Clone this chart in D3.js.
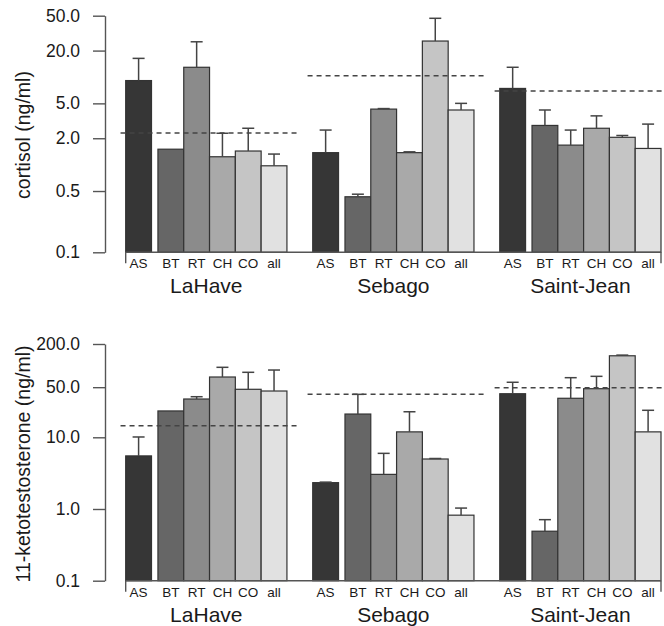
<!DOCTYPE html>
<html>
<head>
<meta charset="utf-8">
<script src="https://cdn.jsdelivr.net/npm/d3@7"></script>
<style>
  body { margin: 0; background: #fff; }
  text { font-family: "Liberation Sans", Arial, Helvetica, sans-serif; fill: #1a1a1a; }
</style>
</head>
<body>
<svg id="chart" width="664" height="626"></svg>
<script>
// sites and species (bar names)
const sites = ["LaHave", "Sebago", "Saint-Jean"];
const species = ["AS", "BT", "RT", "CH", "CO", "all"];
const barColors = ["#363636", "#666666", "#8b8b8b", "#a9a9a9", "#c5c5c5", "#e1e1e1"];

// cortisol (ng/ml): means and upper error, one row per site
const cortisolMean  = [[9.1, 1.5, 12.9, 1.23, 1.43, 0.97],
                       [1.37, 0.43, 4.3, 1.37, 25.7, 4.2],
                       [7.4, 2.8, 1.67, 2.6, 2.05, 1.53]];
const cortisolUpper = [[16.3, null, 25.2, 2.28, 2.6, 1.32],
                       [2.48, 0.46, 4.36, 1.40, 46.7, 5.0],
                       [12.9, 4.2, 2.48, 3.6, 2.15, 2.9]];
const cortisolRef   = [2.3, 10.3, 6.9];
const cortisolTicks = [0.1, 0.5, 2, 5, 20, 50];

// 11-ketotestosterone (ng/ml)
const ketoMean  = [[5.5, 23.3, 34.2, 69.3, 46.7, 44.2],
                   [2.33, 21.1, 3.04, 11.9, 4.98, 0.82],
                   [40.5, 0.49, 35, 47.6, 137, 11.9]];
const ketoUpper = [[10.1, null, 36.8, 94.6, 80.6, 86.7],
                   [2.37, 39.7, 5.97, 22.7, 5.06, 1.03],
                   [58.5, 0.71, 67.8, 70.8, 140, 23.8]];
const ketoRef   = [14.5, 39.7, 49.2];
const ketoTicks = [0.1, 1, 10, 50, 200];

let svg = d3.select("#chart");

// bar slots: AS, gap, then five touching bars, one bar-width gap between sites
let slotStart = [0, 1.25, 2.25, 3.25, 4.25, 5.25];
let siteOffset = [0, 7.25, 14.5];

let x = d3.scaleLinear().domain([0, 20.75]).range([125.7, 661]);

function draw_panel(p) {
    let y = d3.scaleLog().domain([0.1, p.top]).range([p.y1, p.y0]);
    let g = svg.append("g");

    // y axis
    let ax = g.append("g")
        .attr("transform", "translate(105,0)")
        .call(d3.axisLeft(y).tickValues(p.ticks).tickFormat(d3.format(".1f"))
              .tickSize(12).tickSizeOuter(0).tickPadding(13));
    ax.selectAll("path, line").attr("stroke", "#555").attr("stroke-width", 1.4);
    ax.selectAll("text").style("font-size", "17.5px").attr("fill", "#1a1a1a")
        .style("font-family", '"Liberation Sans", Arial, sans-serif');

    g.append("text")
        .attr("transform", "translate(30," + p.titleY + ") rotate(-90)")
        .attr("text-anchor", "middle")
        .style("font-size", "19.5px")
        .text(p.title);

    let bars = [];
    sites.forEach(function(s, i) {
        species.forEach(function(sp, j) {
            bars.push({site: i, sp: j, x0: siteOffset[i] + slotStart[j],
                       mean: p.mean[i][j], upper: p.upper[i][j]});
        });
    });

    g.selectAll("rect.bar").data(bars).enter().append("rect")
        .attr("class", "bar")
        .attr("x", d => x(d.x0))
        .attr("width", d => x(d.x0 + 1) - x(d.x0))
        .attr("y", d => y(d.mean))
        .attr("height", d => y(0.1) - y(d.mean))
        .attr("fill", d => barColors[d.sp])
        .attr("stroke", "#333")
        .attr("stroke-width", 1.2);

    // error bars (upper only)
    let eb = bars.filter(d => d.upper != null);
    g.selectAll("line.err").data(eb).enter().append("line")
        .attr("x1", d => x(d.x0 + 0.5)).attr("x2", d => x(d.x0 + 0.5))
        .attr("y1", d => y(d.mean)).attr("y2", d => y(d.upper))
        .attr("stroke", "#444").attr("stroke-width", 1.5);
    g.selectAll("line.cap").data(eb).enter().append("line")
        .attr("x1", d => x(d.x0 + 0.5) - 6).attr("x2", d => x(d.x0 + 0.5) + 6)
        .attr("y1", d => y(d.upper)).attr("y2", d => y(d.upper))
        .attr("stroke", "#444").attr("stroke-width", 1.5);

    // site reference lines
    g.selectAll("line.ref").data(p.ref).enter().append("line")
        .attr("x1", (d, i) => x(siteOffset[i] - 0.2))
        .attr("x2", (d, i) => x(siteOffset[i] + 6.25 + 0.4))
        .attr("y1", d => y(d)).attr("y2", d => y(d))
        .attr("stroke", "#444").attr("stroke-width", 1.5)
        .attr("stroke-dasharray", "5,4");

    // x baseline with end ticks
    let yb = y(0.1);
    g.append("line").attr("x1", x(0)).attr("x2", x(20.75)).attr("y1", yb).attr("y2", yb)
        .attr("stroke", "#555").attr("stroke-width", 1.4);
    [0, 20.75].forEach(function(v) {
        g.append("line").attr("x1", x(v)).attr("x2", x(v)).attr("y1", yb).attr("y2", yb + 11)
            .attr("stroke", "#555").attr("stroke-width", 1.4);
    });

    g.selectAll("text.sp").data(bars).enter().append("text")
        .attr("x", d => x(d.x0 + 0.5))
        .attr("y", yb + 16)
        .attr("text-anchor", "middle")
        .style("font-size", "13.5px")
        .text(d => species[d.sp]);

    g.selectAll("text.site").data(sites).enter().append("text")
        .attr("x", (d, i) => x(siteOffset[i] + 3.125))
        .attr("y", yb + 41)
        .attr("text-anchor", "middle")
        .style("font-size", "21px")
        .text(d => d);
}

draw_panel({top: 50, y0: 15.7, y1: 252.3, ticks: cortisolTicks,
            mean: cortisolMean, upper: cortisolUpper, ref: cortisolRef,
            title: "cortisol (ng/ml)", titleY: 135});
draw_panel({top: 200, y0: 344, y1: 580.7, ticks: ketoTicks,
            mean: ketoMean, upper: ketoUpper, ref: ketoRef,
            title: "11-ketotestosterone (ng/ml)", titleY: 464});
</script>
</body>
</html>
